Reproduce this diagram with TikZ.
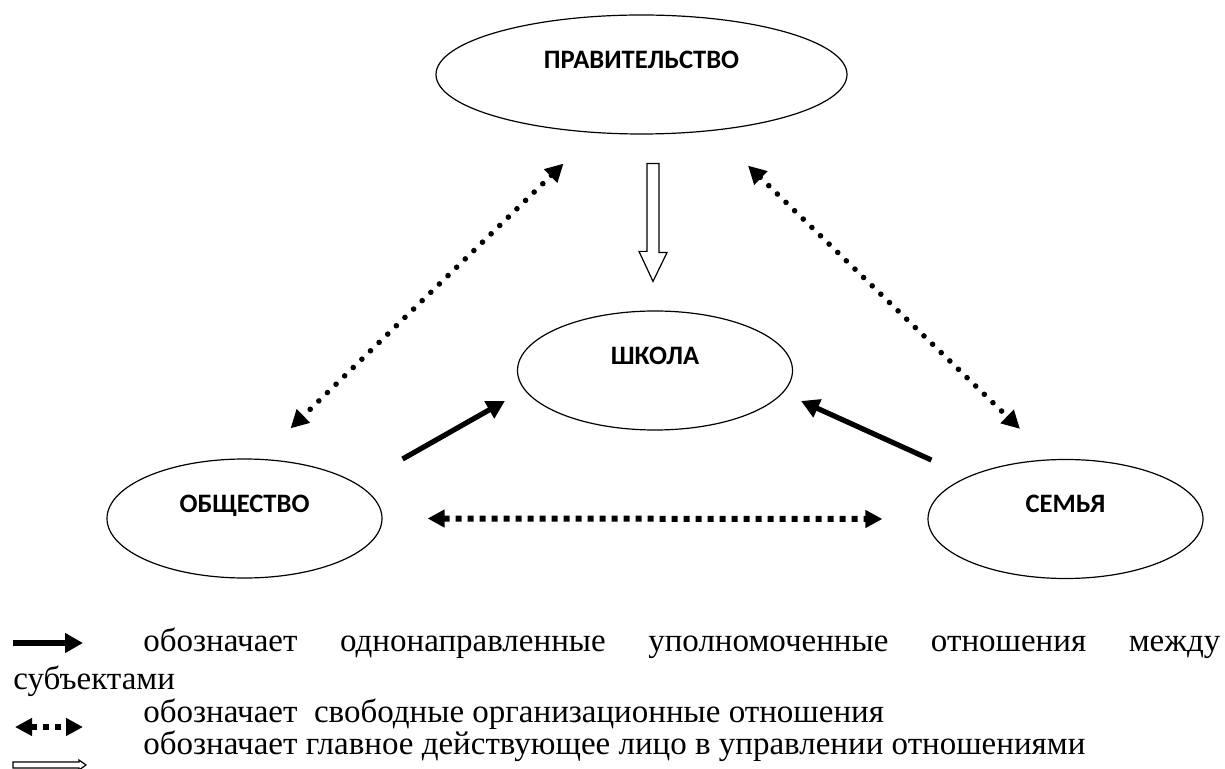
\documentclass[tikz,border=0pt]{standalone}
\usepackage{fontspec}
\setmainfont{Liberation Serif}
\newfontfamily\labelfont{Carlito}
\usetikzlibrary{shapes.geometric, arrows.meta, calc}

\begin{document}
\begin{tikzpicture}
  [
    x=0.5pt, y=-0.5pt,
    ell/.style =
      {draw, ellipse, line width=0.6pt, inner sep=0pt, text depth=15pt,
       minimum width=137.5pt, minimum height=59.5pt,
       font=\labelfont\bfseries\fontsize{13.3pt}{16pt}\selectfont},
    solidarr/.style =
      {-{Triangle[length=9pt, width=9.5pt]}, line width=2.6pt},
    dotarr/.style =
      {{Triangle[length=9pt, width=9pt]}-{Triangle[length=9pt, width=9pt]},
       line width=2.8pt, line cap=round, dash pattern=on 0pt off 6pt},
    squarr/.style =
      {{Triangle[length=8.5pt, width=8.5pt]}-{Triangle[length=8.5pt, width=8.5pt]},
       line width=3pt, dash pattern=on 3pt off 3pt},
    hollow/.style =
      {draw, line width=0.6pt, fill=white},
    legend/.style =
      {anchor=base west, inner sep=0pt, font=\fontsize{16.5pt}{20pt}\selectfont}
  ]
  \useasboundingbox (0,0) rectangle (1225,769);

  \node [ell, minimum width=205.5pt] at (641.5, 74.5) (gov)     {ПРАВИТЕЛЬСТВО};
  \node [ell] at (655, 370.5)                         (school)  {ШКОЛА};
  \node [ell] at (244.5, 518.5)                       (society) {ОБЩЕСТВО};
  \node [ell] at (1065.5, 519)                        (family)  {СЕМЬЯ};

  \draw [dotarr] ($(gov.south)+(-78,29)$)    -- ($(society.north)+(46,-30)$);
  \draw [dotarr] ($(gov.south)+(106.5,31)$)  -- ($(family.north)+(-45.5,-30)$);
  \draw [solidarr] ($(society.east)+(20,-59.5)$) -- ($(school.west)+(-12,30.5)$);
  \draw [solidarr] ($(family.west)+(4,-59)$)     -- ($(school.east)+(8,30.5)$);
  \draw [squarr] ($(society.east)+(45,0)$)   -- ($(family.west)+(-45,0)$);
  \draw [hollow] ($(gov.south)+(5.5,29)$) -- ++(12,0) -- ++(0,89) -- ++(8,0)
    -- ($(school.north)+(-2,-29)$) -- ++(-14,-30) -- ++(8,0) -- cycle;

  % legend
  \coordinate (k1s) at (13,643);
  \coordinate (k1e) at (83,643);
  \coordinate (k2s) at (15,727);
  \coordinate (k2e) at (83,727);
  \coordinate (k3s) at (13,765);
  \draw [solidarr, line width=3pt] (k1s) -- (k1e);
  \draw [squarr] (k2s) -- (k2e);
  \draw [hollow] ($(k3s)+(0,-3)$) -- ++(66,0) -- ++(0,-2) -- ++(7,5) -- ++(-7,5)
    -- ++(0,-2) -- ++(-66,0) -- cycle;
  \node [legend] at (143,651) (k1)
    {\makebox[538.5pt][s]{обозначает однонаправленные уполномоченные отношения между}};
  \node [legend] at (13,689)  (k1b) {субъектами};
  \node [legend] at (143,722) (k2)  {обозначает\ \ свободные организационные отношения};
  \node [legend] at (143,754) (k3)  {обозначает главное действующее лицо в управлении отношениями};
\end{tikzpicture}
\end{document}
